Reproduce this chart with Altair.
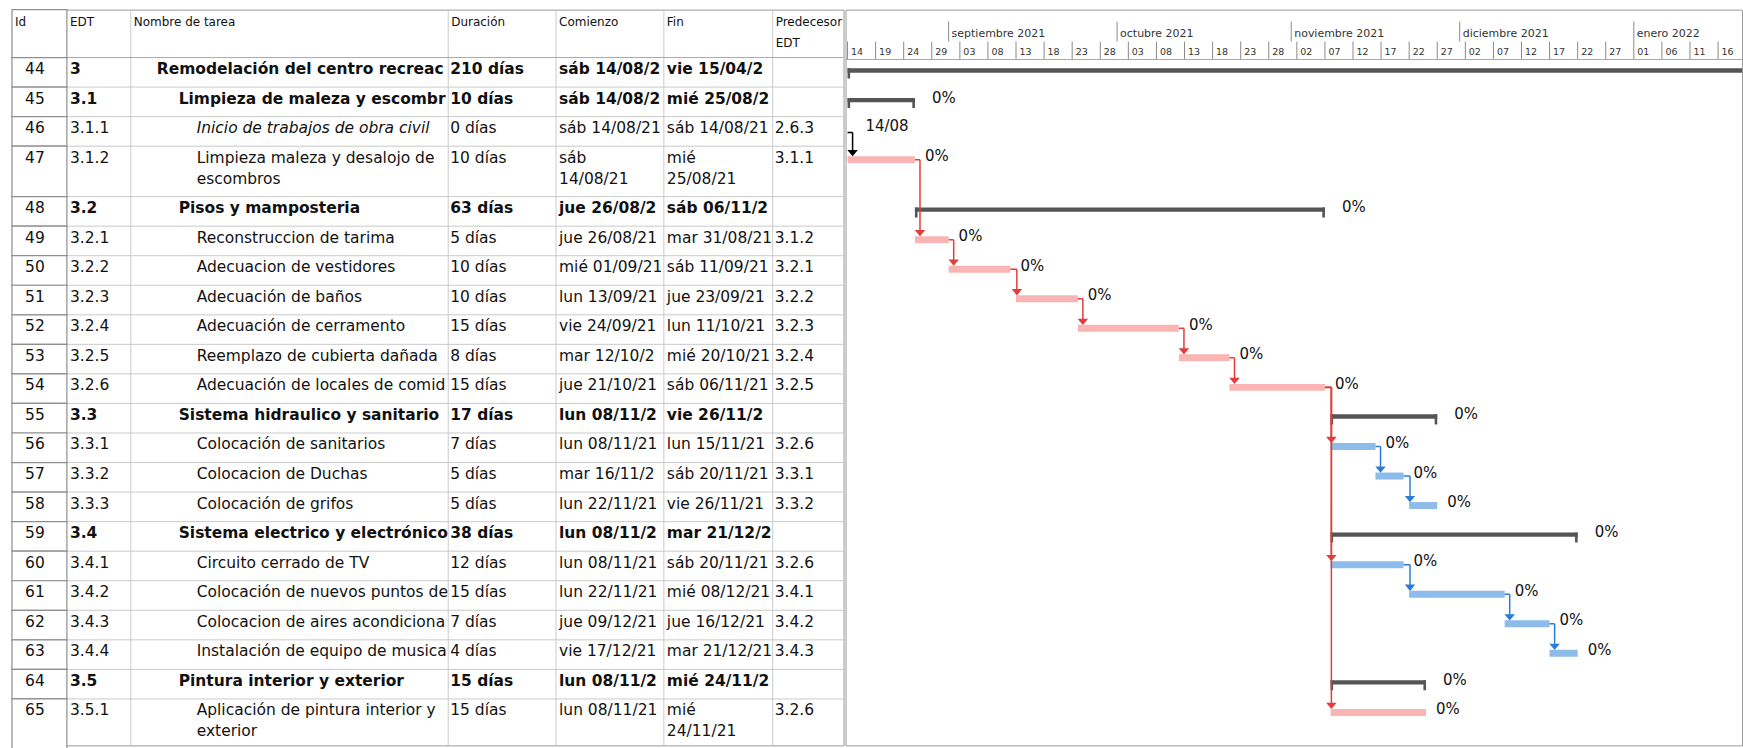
import altair as alt
import pandas as pd
from datetime import datetime, timedelta

# ---------------- project schedule ----------------
ids = [44, 45, 46, 47, 48, 49, 50, 51, 52, 53, 54, 55, 56, 57, 58, 59, 60, 61, 62, 63, 64, 65]
edt = ["3", "3.1", "3.1.1", "3.1.2", "3.2", "3.2.1", "3.2.2", "3.2.3", "3.2.4", "3.2.5", "3.2.6",
       "3.3", "3.3.1", "3.3.2", "3.3.3", "3.4", "3.4.1", "3.4.2", "3.4.3", "3.4.4", "3.5", "3.5.1"]
nombres = [
    "Remodelación del centro recreacional",
    "Limpieza de maleza y escombros",
    "Inicio de trabajos de obra civil",
    "Limpieza maleza y desalojo de\nescombros",
    "Pisos y mamposteria",
    "Reconstruccion de tarima",
    "Adecuacion de vestidores",
    "Adecuación de baños",
    "Adecuación de cerramento",
    "Reemplazo de cubierta dañada",
    "Adecuación de locales de comida",
    "Sistema hidraulico y sanitario",
    "Colocación de sanitarios",
    "Colocacion de Duchas",
    "Colocación de grifos",
    "Sistema electrico y electrónico",
    "Circuito cerrado de TV",
    "Colocación de nuevos puntos de luz",
    "Colocacion de aires acondicionados",
    "Instalación de equipo de musica",
    "Pintura interior y exterior",
    "Aplicación de pintura interior y\nexterior",
]
niveles = [1, 2, 3, 3, 2, 3, 3, 3, 3, 3, 3, 2, 3, 3, 3, 2, 3, 3, 3, 3, 2, 3]
duracion_dias = [210, 10, 0, 10, 63, 5, 10, 10, 15, 8, 15, 17, 7, 5, 5, 38, 12, 15, 7, 4, 15, 15]
comienzo = ["2021-08-14", "2021-08-14", "2021-08-14", "2021-08-14", "2021-08-26", "2021-08-26",
            "2021-09-01", "2021-09-13", "2021-09-24", "2021-10-12", "2021-10-21", "2021-11-08",
            "2021-11-08", "2021-11-16", "2021-11-22", "2021-11-08", "2021-11-08", "2021-11-22",
            "2021-12-09", "2021-12-17", "2021-11-08", "2021-11-08"]
fin = ["2022-04-15", "2021-08-25", "2021-08-14", "2021-08-25", "2021-11-06", "2021-08-31",
       "2021-09-11", "2021-09-23", "2021-10-11", "2021-10-20", "2021-11-06", "2021-11-26",
       "2021-11-15", "2021-11-20", "2021-11-26", "2021-12-21", "2021-11-20", "2021-12-08",
       "2021-12-16", "2021-12-21", "2021-11-24", "2021-11-24"]
predecesoras = ["", "", "2.6.3", "3.1.1", "", "3.1.2", "3.2.1", "3.2.2", "3.2.3", "3.2.4", "3.2.5",
                "", "3.2.6", "3.3.1", "3.3.2", "", "3.2.6", "3.4.1", "3.4.2", "3.4.3", "", "3.2.6"]
critica = [1, 1, 1, 1, 1, 1, 1, 1, 1, 1, 1, 0, 0, 0, 0, 0, 0, 0, 0, 0, 1, 1]
porcentaje = [0] * 22
# cells whose date wraps onto a second line
comienzo_dos_lineas = [47]
fin_dos_lineas = [47, 65]

encabezados = ["Id", "EDT", "Nombre de tarea", "Duración", "Comienzo", "Fin", "Predecesoras\nEDT"]

# timescale
marcas_5d = ["2021-08-14", "2021-08-19", "2021-08-24", "2021-08-29", "2021-09-03", "2021-09-08",
             "2021-09-13", "2021-09-18", "2021-09-23", "2021-09-28", "2021-10-03", "2021-10-08",
             "2021-10-13", "2021-10-18", "2021-10-23", "2021-10-28", "2021-11-02", "2021-11-07",
             "2021-11-12", "2021-11-17", "2021-11-22", "2021-11-27", "2021-12-02", "2021-12-07",
             "2021-12-12", "2021-12-17", "2021-12-22", "2021-12-27", "2022-01-01", "2022-01-06",
             "2022-01-11", "2022-01-16"]
inicio_meses = ["2021-09-01", "2021-10-01", "2021-11-01", "2021-12-01", "2022-01-01"]

DIAS = ["lun", "mar", "mié", "jue", "vie", "sáb", "dom"]
MESES = ["enero", "febrero", "marzo", "abril", "mayo", "junio", "julio", "agosto",
         "septiembre", "octubre", "noviembre", "diciembre"]

# ---------------- layout ----------------
FONT = "DejaVu Sans"
FS = 15.5
TXT = "#111111"
GRID = "#CACACA"
CUT = "\u200b"  # cell text is cut at the border, with no visible ellipsis
TABLE_W, GANTT_W, H = 833, 898, 737
HEADER_H = 48
GANTT_HEADER_H = 50
ROW_H = 29.6
EXTRA_LINE = 20.9
TEXT_DY = 4.5
COL_EDGES = [0, 55, 119, 437, 545, 653, 762, 833]
INDENT = {1: 26, 2: 48, 3: 66}
PX_PER_DAY = 5.626
VIEW_START = datetime(2021, 8, 13, 15, 30)
VIEW_END = VIEW_START + timedelta(days=GANTT_W / PX_PER_DAY)
EPOCH = datetime(1970, 1, 1)


def ms(d):
    return int((d - EPOCH).total_seconds() * 1000)


def iso(d):
    return d.strftime("%Y-%m-%dT%H:%M:%SZ")


def parse(s):
    return datetime.strptime(s, "%Y-%m-%d")


def fecha_txt(s, partir):
    d = parse(s)
    return f"{DIAS[d.weekday()]}{chr(10) if partir else ' '}{d:%d/%m/%y}"


XS_T = alt.Scale(domain=[0, TABLE_W], nice=False, zero=False)
XS_G = alt.Scale(type="utc", domain=[ms(VIEW_START), ms(VIEW_END)], nice=False)
YS = alt.Scale(domain=[0, H], reverse=True, nice=False, zero=False)

n = len(ids)
lines = [t.count("\n") + 1 for t in nombres]
tops, bottoms = [], []
acc = HEADER_H
for l in lines:
    tops.append(acc)
    acc += ROW_H + (l - 1) * EXTRA_LINE
    bottoms.append(acc)

# ---------------- table panel ----------------
row_lines = pd.DataFrame({"y": bottoms[:-1], "x0": COL_EDGES[1], "x1": COL_EDGES[-1]})
col_lines = pd.DataFrame({"x": COL_EDGES[2:-1], "y0": 0, "y1": H})
head_line = pd.DataFrame({"y": [HEADER_H], "x0": [0], "x1": [TABLE_W]})
id_boxes = pd.DataFrame({"y0": [0] + tops, "y1": [HEADER_H] + bottoms,
                         "x0": COL_EDGES[0], "x1": COL_EDGES[1]})

cells = []


def add(x, i, txt, style, limit, align="left"):
    if txt:
        cells.append(dict(x=x, ty=tops[i] + TEXT_DY, txt=txt, style=style,
                          limit=float(limit), align=align))


for i in range(n):
    summ = niveles[i] <= 2
    hito = duracion_dias[i] == 0
    st = "bold" if summ else "normal"
    add(23, i, str(ids[i]), "normal", 50, "center")
    add(COL_EDGES[1] + 3, i, edt[i], st, 60)
    nx = COL_EDGES[2] + INDENT[niveles[i]]
    add(nx, i, nombres[i], "italic" if hito else st, COL_EDGES[3] - nx)
    add(COL_EDGES[3] + 2, i, f"{duracion_dias[i]} días", st, 105)
    add(COL_EDGES[4] + 3, i, fecha_txt(comienzo[i], ids[i] in comienzo_dos_lineas), st, 105)
    add(COL_EDGES[5] + 3, i, fecha_txt(fin[i], ids[i] in fin_dos_lineas), st, 106)
    add(COL_EDGES[6] + 2, i, predecesoras[i], "normal", 68)

cells_df = pd.DataFrame(cells)

table_layers = [
    alt.Chart(row_lines).mark_rule(color=GRID, strokeWidth=1).encode(
        x=alt.X("x0:Q", scale=XS_T, axis=None), x2="x1:Q",
        y=alt.Y("y:Q", scale=YS, axis=None)),
    alt.Chart(col_lines).mark_rule(color=GRID, strokeWidth=1).encode(
        x=alt.X("x:Q", scale=XS_T, axis=None),
        y=alt.Y("y0:Q", scale=YS, axis=None), y2="y1:Q"),
    alt.Chart(head_line).mark_rule(color="#A8A8A8", strokeWidth=1).encode(
        x=alt.X("x0:Q", scale=XS_T, axis=None), x2="x1:Q",
        y=alt.Y("y:Q", scale=YS, axis=None)),
    alt.Chart(id_boxes).mark_rect(fill="white", stroke="#8E8E8E", strokeWidth=1.2).encode(
        x=alt.X("x0:Q", scale=XS_T, axis=None), x2="x1:Q",
        y=alt.Y("y0:Q", scale=YS, axis=None), y2="y1:Q"),
]

for (style, limit, align), g in cells_df.groupby(["style", "limit", "align"]):
    table_layers.append(
        alt.Chart(g).mark_text(
            align=align, baseline="top", font=FONT, fontSize=FS,
            fontWeight="bold" if style == "bold" else "normal",
            fontStyle="italic" if style == "italic" else "normal",
            limit=float(limit), ellipsis=CUT, lineBreak="\n", lineHeight=EXTRA_LINE, color=TXT,
        ).encode(
            x=alt.X("x:Q", scale=XS_T, axis=None),
            y=alt.Y("ty:Q", scale=YS, axis=None),
            text="txt:N",
        )
    )

head_df = pd.DataFrame({
    "x": [COL_EDGES[k] + 3 for k in range(7)],
    "ty": 7,
    "txt": encabezados,
    "limit": [COL_EDGES[k + 1] - COL_EDGES[k] - 4 for k in range(7)],
})
for lim, g in head_df.groupby("limit"):
    table_layers.append(
        alt.Chart(g).mark_text(
            align="left", baseline="top", font=FONT, fontSize=12, limit=float(lim), ellipsis=CUT,
            lineBreak="\n", lineHeight=21, color=TXT,
        ).encode(
            x=alt.X("x:Q", scale=XS_T, axis=None),
            y=alt.Y("ty:Q", scale=YS, axis=None),
            text="txt:N",
        )
    )

table = alt.layer(*table_layers).properties(width=TABLE_W, height=H)

# ---------------- gantt panel ----------------
minor_df = pd.DataFrame({
    "t": [iso(parse(s)) for s in marcas_5d],
    "lab": [parse(s).strftime("%d") for s in marcas_5d],
    "y0": 32, "y1": GANTT_HEADER_H, "ty": 42,
})
month_df = pd.DataFrame({
    "t": [iso(parse(s)) for s in inicio_meses],
    "lab": [f"{MESES[parse(s).month - 1]} {parse(s).year}" for s in inicio_meses],
    "y0": 12, "y1": 32, "ty": 24.5,
})
gline_df = pd.DataFrame({"t0": [iso(VIEW_START)], "t1": [iso(VIEW_END)], "y": [GANTT_HEADER_H]})

bars = []
for i in range(n):
    s = parse(comienzo[i])
    e = s if duracion_dias[i] == 0 else parse(fin[i]) + timedelta(days=1)
    kind = "hito" if duracion_dias[i] == 0 else ("resumen" if niveles[i] <= 2 else
                                                 ("crit" if critica[i] else "norm"))
    bars.append(dict(s=iso(s), e=iso(e), e_dt=e, s_dt=s, kind=kind, top=tops[i],
                     lab=f"{porcentaje[i]}%", hito_lab=s.strftime("%d/%m")))
bars_df = pd.DataFrame(bars)
bars_df["sb0"] = bars_df["top"] + 10.8
bars_df["sb1"] = bars_df["top"] + 15.2
bars_df["cap1"] = bars_df["top"] + 21
bars_df["tb0"] = bars_df["top"] + 10
bars_df["tb1"] = bars_df["top"] + 17
bars_df["ly_sum"] = bars_df["top"] + 10.5
bars_df["ly_task"] = bars_df["top"] + 10
bars_df["ly_hito"] = bars_df["top"] + 9


def gx(field, **kw):
    return alt.X(f"{field}:T", scale=XS_G, axis=None, **kw)


def gy(field):
    return alt.Y(f"{field}:Q", scale=YS, axis=None)


summ = bars_df[bars_df.kind == "resumen"].drop(columns=["e_dt", "s_dt"])
crit = bars_df[bars_df.kind == "crit"].drop(columns=["e_dt", "s_dt"])
norm = bars_df[bars_df.kind == "norm"].drop(columns=["e_dt", "s_dt"])
hito = bars_df[bars_df.kind == "hito"].drop(columns=["e_dt", "s_dt"])
visible = bars_df["e_dt"] < VIEW_END
lab_sum = bars_df[visible & (bars_df.kind == "resumen")].drop(columns=["e_dt", "s_dt"])
lab_task = bars_df[visible & bars_df.kind.isin(["crit", "norm"])].drop(columns=["e_dt", "s_dt"])

# dependency links (finish-to-start)
idx = {e: i for i, e in enumerate(edt)}
links = []
for i, p in enumerate(predecesoras):
    if p not in idx:
        continue
    j = idx[p]
    pb, sb = bars[j], bars[i]
    pend = pb["e_dt"]
    xc = max(pend + timedelta(days=0.9), sb["s_dt"] + timedelta(days=0.15))
    py = tops[j] + (16 if pb["kind"] == "hito" else 13.5)
    stop = tops[i] + 10
    links.append(dict(kind=pb["kind"], x0=iso(pend), xc=iso(xc), py=py,
                      vy1=stop - 3, ay=stop - 3))
links_df = pd.DataFrame(links)
LINK_COLORS = {"crit": "#E23C3C", "norm": "#2B7BD8", "hito": "#000000"}
ARROW = "M-1,-0.6L1,-0.6L0,0.6Z"

gantt_layers = [
    alt.Chart(month_df).mark_rule(color="#8A8A8A", strokeWidth=1, clip=True).encode(
        x=gx("t"), y=gy("y0"), y2="y1:Q"),
    alt.Chart(month_df).mark_text(align="left", baseline="middle", dx=3, font=FONT, fontSize=11,
                                  color="#333333", clip=True).encode(
        x=gx("t"), y=gy("ty"), text="lab:N"),
    alt.Chart(minor_df).mark_rule(color="#8A8A8A", strokeWidth=1, clip=True).encode(
        x=gx("t"), y=gy("y0"), y2="y1:Q"),
    alt.Chart(minor_df).mark_text(align="left", baseline="middle", dx=3.5, font=FONT,
                                  fontSize=9.5, color="#333333", clip=True).encode(
        x=gx("t"), y=gy("ty"), text="lab:N"),
    alt.Chart(gline_df).mark_rule(color="#A8A8A8", strokeWidth=1).encode(
        x=gx("t0"), x2="t1:T", y=gy("y")),
    # summary bars with their end hooks
    alt.Chart(summ).mark_rect(color="#555555", clip=True).encode(
        x=gx("s"), x2="e:T", y=gy("sb0"), y2="sb1:Q"),
    alt.Chart(summ).mark_rect(color="#555555", clip=True, x2Offset=2.6).encode(
        x=gx("s"), x2="s:T", y=gy("sb0"), y2="cap1:Q"),
    alt.Chart(summ).mark_rect(color="#555555", clip=True, xOffset=-2.6).encode(
        x=gx("e"), x2="e:T", y=gy("sb0"), y2="cap1:Q"),
    # task bars
    alt.Chart(crit).mark_rect(color="#FBB4B4", clip=True).encode(
        x=gx("s"), x2="e:T", y=gy("tb0"), y2="tb1:Q"),
    alt.Chart(norm).mark_rect(color="#8DBBEA", clip=True).encode(
        x=gx("s"), x2="e:T", y=gy("tb0"), y2="tb1:Q"),
]

for kind, col in LINK_COLORS.items():
    sub = links_df[links_df.kind == kind]
    if sub.empty:
        continue
    gantt_layers += [
        alt.Chart(sub).mark_rule(color=col, strokeWidth=1.5, clip=True).encode(
            x=gx("x0"), x2="xc:T", y=gy("py")),
        alt.Chart(sub).mark_rule(color=col, strokeWidth=1.5, clip=True).encode(
            x=gx("xc"), y=gy("py"), y2="vy1:Q"),
        alt.Chart(sub).mark_point(shape=ARROW, filled=True, size=110, color=col, opacity=1,
                                  clip=True).encode(x=gx("xc"), y=gy("ay")),
    ]

gantt_layers += [
    alt.Chart(lab_sum).mark_text(align="left", baseline="middle", dx=17, font=FONT, fontSize=15,
                                 color=TXT, clip=True).encode(
        x=gx("e"), y=gy("ly_sum"), text="lab:N"),
    alt.Chart(lab_task).mark_text(align="left", baseline="middle", dx=10, font=FONT, fontSize=15,
                                  color=TXT, clip=True).encode(
        x=gx("e"), y=gy("ly_task"), text="lab:N"),
    alt.Chart(hito).mark_text(align="left", baseline="middle", dx=18, font=FONT, fontSize=15,
                              color=TXT, clip=True).encode(
        x=gx("s"), y=gy("ly_hito"), text="hito_lab:N"),
]

gantt = alt.layer(*gantt_layers).properties(width=GANTT_W, height=H)

chart = (
    alt.hconcat(table, gantt, spacing=0)
    .properties(padding={"left": 10, "top": 7, "right": 0, "bottom": 0}, background="white")
    .configure_view(stroke="#999999", strokeWidth=1)
)

chart.save("out.html", embed_options={"renderer": "svg", "actions": False})
